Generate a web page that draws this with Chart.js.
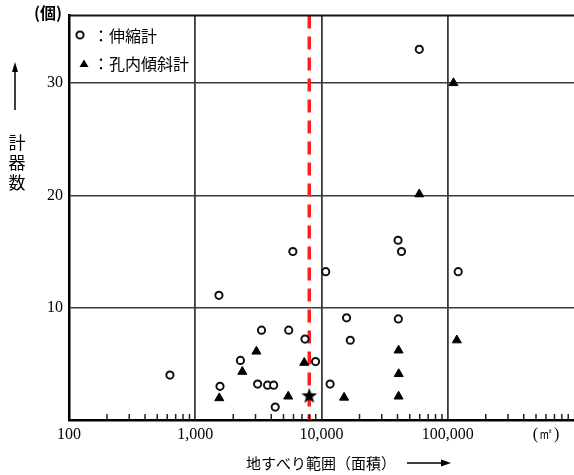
<!DOCTYPE html>
<html>
<head>
<meta charset="utf-8">
<script src="https://cdn.jsdelivr.net/npm/chart.js@4/dist/chart.umd.min.js"></script>
<style>
  html, body { margin: 0; padding: 0; background: #fff; }
  #wrap { width: 574px; height: 475px; position: relative; }
</style>
</head>
<body>
<div id="wrap"><canvas id="areaChart"></canvas></div>
<script>
// 伸縮計 : landslide area (m²) and number of instruments
const extArea  = [630, 1540, 1570, 2280, 3120, 3350, 3740, 4180, 4300, 5500, 5930, 7400, 8970, 10800, 11700, 15800, 16900, 40400, 40600, 43000, 59500, 121000];
const extCount = [4.0, 11.1, 3.0, 5.3, 3.2, 8.0, 3.1, 3.1, 1.15, 8.0, 15.0, 7.2, 5.2, 13.2, 3.2, 9.1, 7.1, 16.0, 9.0, 15.0, 33.0, 13.2];

// 孔内傾斜計
const incArea  = [1550, 2360, 3050, 5450, 7300, 15100, 40800, 40900, 40800, 59500, 111000, 118000];
const incCount = [1.95, 4.3, 6.1, 2.1, 5.1, 2.0, 6.2, 4.1, 2.1, 20.1, 30.0, 7.1];

// marked case (star) and the dashed reference area
const starArea = [8000];
const starCount = [2.2];
const refArea = 8000;

// axis ticks
const xTickValues = [100, 1000, 10000, 100000, 600000];
const xTickLabels = ['100', '1,000', '10,000', '100,000', '(㎡)'];
const xGridValues = [1000, 10000, 100000];
const yTickValues = [10, 20, 30];

const numFont = { family: '"Liberation Serif", "DejaVu Serif", serif', size: 16 };
const cjkFamily = '"Noto Sans CJK JP", "Noto Sans CJK SC", sans-serif';

function toPoints(xs, ys) {
    return xs.map((x, i) => ({ x: x, y: ys[i] }));
}

// filled star used as a point style
const starImg = document.createElement('canvas');
starImg.width = 18;
starImg.height = 18;
(function () {
    const sc = starImg.getContext('2d');
    sc.beginPath();
    for (let i = 0; i < 10; i++) {
        const r = i % 2 ? 3.4 : 8.4;
        const a = -Math.PI / 2 + i * Math.PI / 5;
        const px = 9 + r * Math.cos(a);
        const py = 9.8 + r * Math.sin(a);
        if (i === 0) sc.moveTo(px, py); else sc.lineTo(px, py);
    }
    sc.closePath();
    sc.fillStyle = '#000';
    sc.fill();
})();

// frame top line, minor ticks, legend and axis titles
const decorPlugin = {
    id: 'decor',
    afterDatasetsDraw(chart) {
        const ctx = chart.ctx;
        const area = chart.chartArea;
        const xs = chart.scales.x;
        ctx.save();

        // top frame
        ctx.strokeStyle = '#111';
        ctx.lineWidth = 2;
        ctx.beginPath();
        ctx.moveTo(area.left - 1, area.top);
        ctx.lineTo(area.right, area.top);
        ctx.stroke();

        // minor ticks on the bottom axis
        ctx.lineWidth = 1.5;
        ctx.strokeStyle = '#222';
        [100, 1000, 10000, 100000].forEach(d => {
            for (let k = 2; k <= 9; k++) {
                const px = xs.getPixelForValue(k * d);
                ctx.beginPath();
                ctx.moveTo(px, area.bottom);
                ctx.lineTo(px, area.bottom - 6);
                ctx.stroke();
            }
        });

        // legend
        ctx.fillStyle = '#000';
        ctx.font = '16px ' + cjkFamily;
        ctx.textBaseline = 'middle';
        ctx.textAlign = 'left';
        ctx.beginPath();
        ctx.arc(80, 35, 3.6, 0, Math.PI * 2);
        ctx.lineWidth = 2;
        ctx.strokeStyle = '#111';
        ctx.stroke();
        ctx.fillText('：' + chart.data.datasets[0].label, 93, 36);
        ctx.beginPath();
        ctx.moveTo(84, 59.5);
        ctx.lineTo(88.5, 67);
        ctx.lineTo(79.5, 67);
        ctx.closePath();
        ctx.fill();
        ctx.fillText('：' + chart.data.datasets[1].label, 93, 64);

        // unit on the y axis
        ctx.font = 'bold 16px ' + cjkFamily;
        ctx.textAlign = 'center';
        ctx.fillText('(個)', 48, 13);

        // y title: arrow and stacked characters
        ctx.lineWidth = 1.5;
        ctx.strokeStyle = '#000';
        ctx.beginPath();
        ctx.moveTo(15, 110);
        ctx.lineTo(15, 66);
        ctx.stroke();
        ctx.beginPath();
        ctx.moveTo(15, 62);
        ctx.lineTo(12, 72);
        ctx.lineTo(18, 72);
        ctx.closePath();
        ctx.fill();
        ctx.font = '17px ' + cjkFamily;
        ['計', '器', '数'].forEach((ch, i) => ctx.fillText(ch, 17, 143 + i * 20));

        // x title and arrow
        ctx.font = '15px ' + cjkFamily;
        ctx.textAlign = 'left';
        ctx.fillText('地すべり範囲（面積）', 246, 463);
        ctx.beginPath();
        ctx.moveTo(407, 463);
        ctx.lineTo(444, 463);
        ctx.stroke();
        ctx.beginPath();
        ctx.moveTo(451, 463);
        ctx.lineTo(441, 459.5);
        ctx.lineTo(441, 466.5);
        ctx.closePath();
        ctx.fill();

        ctx.restore();
    }
};

const chartCtx = document.getElementById('areaChart').getContext('2d');
const chart = new Chart(chartCtx, {
    type: 'scatter',
    data: {
        datasets: [{
            label: '伸縮計',
            data: toPoints(extArea, extCount),
            pointStyle: 'circle',
            pointRadius: 3.6,
            borderWidth: 2,
            borderColor: '#111',
            backgroundColor: '#fff',
            order: 1
        }, {
            label: '孔内傾斜計',
            data: toPoints(incArea, incCount),
            pointStyle: 'triangle',
            pointRadius: 5.2,
            borderWidth: 1,
            borderColor: '#000',
            backgroundColor: '#000',
            order: 1
        }, {
            label: 'star',
            data: toPoints(starArea, starCount),
            pointStyle: starImg,
            order: 0
        }, {
            label: 'ref',
            data: [{ x: refArea, y: 36 }, { x: refArea, y: 0 }],
            showLine: true,
            pointRadius: 0,
            borderColor: '#ff1f1f',
            borderWidth: 3.5,
            borderDash: [13, 8],
            order: 3
        }]
    },
    options: {
        responsive: true,
        maintainAspectRatio: false,
        animation: false,
        layout: { autoPadding: false, padding: { left: 0, right: 0, top: 14, bottom: 0 } },
        plugins: {
            legend: { display: false },
            tooltip: { enabled: false }
        },
        scales: {
            x: {
                type: 'logarithmic',
                min: 100,
                max: 1000000,
                afterBuildTicks: s => { s.ticks = xTickValues.map(v => ({ value: v })); },
                afterFit: s => { s.height = 55; },
                ticks: {
                    callback: (v, i) => xTickLabels[i],
                    font: numFont,
                    color: '#000',
                    padding: 5,
                    maxRotation: 0,
                    autoSkip: false
                },
                grid: {
                    color: c => (c.tick && xGridValues.includes(c.tick.value)) ? '#3a3a3a' : 'rgba(0,0,0,0)',
                    lineWidth: 1.8,
                    drawTicks: false
                },
                border: { color: '#000', width: 2.5 }
            },
            y: {
                min: 0,
                max: 36,
                afterBuildTicks: s => { s.ticks = yTickValues.map(v => ({ value: v })); },
                afterFit: s => { s.width = 69; },
                ticks: {
                    font: numFont,
                    color: '#000',
                    padding: 6
                },
                grid: {
                    color: '#3a3a3a',
                    lineWidth: 1.6,
                    drawTicks: false
                },
                border: { color: '#000', width: 2.5 }
            }
        }
    },
    plugins: [decorPlugin]
});
</script>
</body>
</html>
